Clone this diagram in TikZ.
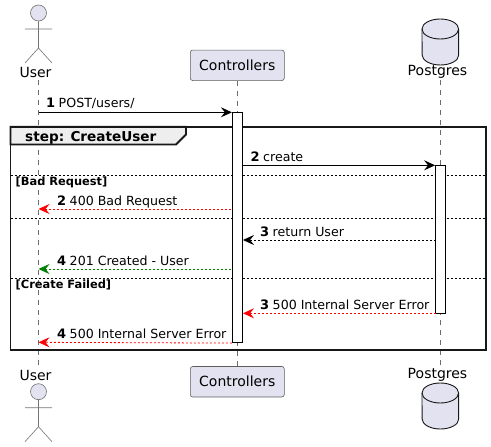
\documentclass[tikz,border=0pt]{standalone}
\usepackage{fontspec}
\setmainfont{DejaVu Sans}
\usepackage{xcolor}
\usetikzlibrary{arrows.meta,calc}
\definecolor{partfill}{HTML}{E2E2F0}
\definecolor{partline}{HTML}{181818}
\definecolor{okgreen}{HTML}{008000}
\newcommand{\msgnum}[1]{{\fontsize{13}{15}\selectfont\textbf{#1}}\hspace{3.5pt}}

\begin{document}
\begin{tikzpicture}[x=1pt,y=-1pt,font=\fontsize{12.6}{15}\selectfont,
  lifeline/.style={gray!85!black,line width=0.6pt,dash pattern=on 5pt off 5pt},
  actorline/.style={partline!60,line width=0.6pt},
  partbox/.style={draw=partline!70,fill=partfill,line width=0.6pt,rounded corners=2.5pt,minimum width=94pt,minimum height=30.5pt,inner sep=0pt,font=\fontsize{14}{16}\selectfont},
  partname/.style={inner sep=0pt,font=\fontsize{14}{16}\selectfont},
  actbar/.style={draw=black,fill=white,line width=0.8pt,minimum width=10pt,inner sep=0pt,anchor=north},
  msglabel/.style={inner sep=0pt,anchor=base west},
  guard/.style={inner sep=0pt,anchor=base west,font=\bfseries\fontsize{11.4}{13}\selectfont},
  msg/.style={line width=0.9pt,-{Stealth[length=11pt,width=10pt,inset=4pt]}},
  reply/.style={msg,line width=0.8pt,dash pattern=on 2pt off 2pt},
  sep/.style={line width=0.8pt,dash pattern=on 2pt off 2pt}]
 \useasboundingbox (0,0) rectangle (491,447);
 \coordinate (usertop) at (38.5,80); \coordinate (userbot) at (38.5,366);
 \coordinate (pgtop) at (440.5,80); \coordinate (pgbot) at (440.5,366);
 \node[partbox] (ctltop) at (237.3,65.3) {Controllers};
 \node[partbox] (ctlbot) at (237.3,381.7) {Controllers};
 \draw[lifeline] (usertop) -- (userbot);
 \draw[lifeline] (ctltop) -- (ctlbot);
 \draw[lifeline] (pgtop) -- (pgbot);
 \node[partname] (usernamea) at (35.5,72) {User};
 \node[partname] (usernameb) at (35.5,375) {User};
 \node[partname] (pgnamea) at (437.5,72) {Postgres};
 \node[partname] (pgnameb) at (437.5,375) {Postgres};
 % stick figures, top and bottom
 \foreach \ty in {0,378.7}{
  \draw[actorline,fill=partfill] (38.5,13+\ty) circle (8);
  \draw[actorline] (38.5,21+\ty) -- (38.5,48+\ty) (25,29+\ty) -- (52,29+\ty) (25,63+\ty) -- (38.5,48+\ty) -- (52,63+\ty);
 }
 % database drums
 \foreach \ty in {0,364}{
  \draw[partline,line width=0.9pt,fill=partfill] (422,29+\ty) arc[start angle=180,end angle=360,x radius=18.3,y radius=10] -- (458.7,55+\ty) arc[start angle=0,end angle=180,x radius=18.3,y radius=10] -- cycle;
  \draw[partline,line width=0.9pt] (422,29+\ty) arc[start angle=180,end angle=0,x radius=18.3,y radius=10];
 }
 % group frame
 \draw[partline,line width=1.8pt,fill=gray!13] (10.5,126.7) -- (186,126.7) -- (186,134.5) -- (176,144.5) -- (10.5,144.5) -- cycle;
 \node[inner sep=0pt,anchor=base west,font=\bfseries\fontsize{13.6}{15}\selectfont] (steplabel) at (25,141) {step: CreateUser};
 \draw[partline,line width=1.8pt] (10.5,126.7) rectangle (485.7,350.3);
 \draw[sep] (10.5,175) -- (485.7,175) (10.5,218.3) -- (485.7,218.3) (10.5,278.3) -- (485.7,278.3);
 \node[guard] (badguard) at (15.5,185) {[Bad Request]};
 \node[guard] (failguard) at (15.5,288.5) {[Create Failed]};
 % activations
 \node[actbar,minimum height=230pt] (ctlbar) at (237.3,112.3) {};
 \node[actbar,minimum height=148pt] (pgbar) at (440.5,165.3) {};
 % messages
 \coordinate (usera) at (38.5,112.3); \coordinate (ctla) at (ctlbar.north west);
 \coordinate (ctlb) at (242.3,165.3); \coordinate (pga) at (pgbar.north west);
 \coordinate (ctlc) at (231,209); \coordinate (userc) at (38.5,209);
 \coordinate (pgd) at (435.5,240); \coordinate (ctld) at (243,240);
 \coordinate (ctle) at (231,269); \coordinate (usere) at (38.5,269);
 \coordinate (pgf) at (435.5,313.3); \coordinate (ctlf) at (243,313.3);
 \coordinate (ctlg) at (ctlbar.south west); \coordinate (userg) at (38.5,342.3);
 \draw[msg] (usera) -- (ctla);
 \draw[msg] (ctlb) -- (pga);
 \draw[reply,red] (ctlc) -- (userc);
 \draw[reply] (pgd) -- (ctld);
 \draw[reply,okgreen] (ctle) -- (usere);
 \draw[reply,red] (pgf) -- (ctlf);
 \draw[reply,red] (ctlg) -- (userg);
 \node[msglabel] (msga) at (46,107.5) {\msgnum{1}POST/users/};
 \node[msglabel] (msgb) at (250.5,161) {\msgnum{2}create};
 \node[msglabel] (msgc) at (57,205) {\msgnum{2}400 Bad Request};
 \node[msglabel] (msgd) at (260,236) {\msgnum{3}return User};
 \node[msglabel] (msge) at (57,265) {\msgnum{4}201 Created - User};
 \node[msglabel] (msgf) at (260,309) {\msgnum{3}500 Internal Server Error};
 \node[msglabel] (msgg) at (57,338) {\msgnum{4}500 Internal Server Error};
\end{tikzpicture}
\end{document}
